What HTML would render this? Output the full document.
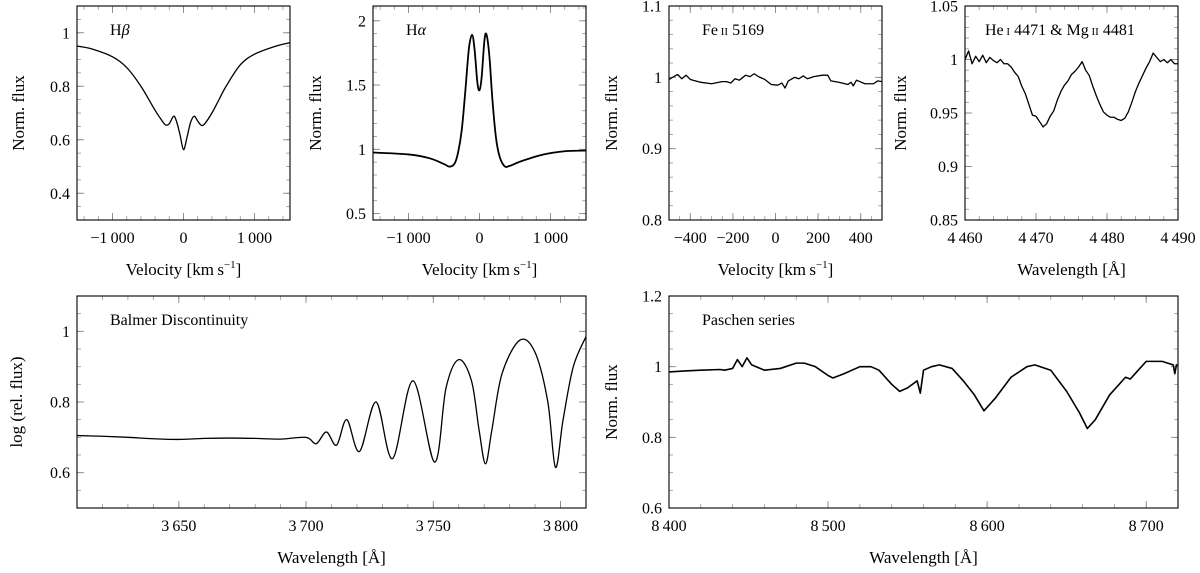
<!DOCTYPE html>
<html><head><meta charset="utf-8"><style>
body{margin:0;background:#fff;}
svg{display:block;font-family:"Liberation Serif",serif;}
</style></head><body>
<svg id="fig" width="1200" height="573" viewBox="0 0 1200 573"></svg>
<script>
// ---- data ----
const hbVel=[-1500,-1300,-1000,-800,-600,-400,-300,-250,-200,-140,-100,-50,0,50,100,150,200,250,300,400,500,600,800,1000,1300,1500];
const hbFlux=[0.95,0.94,0.91,0.87,0.80,0.71,0.67,0.655,0.66,0.688,0.67,0.62,0.563,0.61,0.665,0.688,0.67,0.654,0.66,0.70,0.75,0.80,0.88,0.92,0.95,0.963];
const haVel=[-1500,-1000,-700,-500,-420,-350,-300,-250,-200,-150,-105,-70,-30,0,30,70,100,140,180,230,280,350,420,600,900,1200,1500];
const haFlux=[0.975,0.96,0.93,0.885,0.865,0.89,0.98,1.15,1.45,1.78,1.89,1.78,1.52,1.46,1.56,1.85,1.89,1.72,1.40,1.10,0.95,0.87,0.87,0.91,0.96,0.985,0.99];
const feVel=[-500,-460,-440,-420,-400,-350,-300,-250,-230,-210,-190,-170,-140,-120,-100,-80,-50,-20,10,30,45,60,90,110,130,150,180,220,245,260,300,340,355,365,380,420,460,480,500];
const feFlux=[0.997,1.004,0.998,1.003,0.997,0.993,0.991,0.994,0.994,0.992,0.998,0.996,1.003,1.001,1.005,1.001,0.997,0.990,0.989,0.992,0.985,0.995,1.000,0.998,1.002,0.998,1.001,1.003,1.003,0.995,0.993,0.990,0.993,0.988,0.996,0.991,0.991,0.995,0.994];
const heWave=[4460,4460.5,4461,4461.5,4462,4462.5,4463,4463.5,4464,4464.5,4465,4465.5,4466,4466.5,4467,4467.5,4468,4468.5,4469,4469.5,4470,4470.5,4471,4471.5,4472,4472.5,4473,4473.5,4474,4474.5,4475,4475.5,4476,4476.5,4477,4477.5,4478,4478.5,4479,4479.5,4480,4480.5,4481,4481.5,4482,4482.5,4483,4483.5,4484,4484.5,4485,4485.5,4486,4486.5,4487,4487.5,4488,4488.5,4489,4489.5,4490];
const heFlux=[1.0,1.008,0.996,1.003,0.998,1.004,0.997,1.002,0.999,0.997,1.0,0.996,0.996,0.993,0.988,0.984,0.975,0.968,0.958,0.948,0.947,0.942,0.937,0.940,0.947,0.952,0.962,0.970,0.976,0.980,0.986,0.989,0.993,0.998,0.990,0.985,0.975,0.966,0.958,0.951,0.948,0.946,0.946,0.944,0.943,0.945,0.951,0.960,0.970,0.978,0.985,0.992,0.998,1.006,1.002,0.998,1.000,0.997,1.000,0.996,0.996];
const bdWave=[3610,3620,3630,3640,3650,3660,3670,3680,3690,3700,3704,3708,3712,3716,3721,3727.5,3734,3742,3750.5,3755,3760,3765,3768,3770.5,3773,3777,3784,3790,3795,3798,3801,3805,3810];
const bdFlux=[0.705,0.703,0.700,0.696,0.694,0.697,0.698,0.697,0.695,0.700,0.682,0.715,0.678,0.750,0.660,0.800,0.640,0.860,0.630,0.84,0.920,0.86,0.72,0.625,0.72,0.88,0.975,0.94,0.80,0.615,0.75,0.90,0.985];
const paWave=[8400,8410,8420,8432,8435,8440,8443,8446,8449,8452,8460,8470,8480,8485,8492,8500,8503,8510,8520,8527,8532,8540,8545,8550,8556,8558,8560,8565,8570,8578,8585,8592,8598,8605,8615,8625,8630,8640,8650,8658,8663,8668,8677,8687,8690,8695,8700,8710,8717,8718,8719,8720];
const paFlux=[0.985,0.988,0.99,0.992,0.99,0.995,1.02,1.0,1.025,1.005,0.99,0.995,1.01,1.01,1.0,0.975,0.968,0.98,1.0,1.0,0.99,0.95,0.93,0.94,0.96,0.925,0.99,1.0,1.005,0.995,0.96,0.92,0.875,0.91,0.97,1.0,1.005,0.99,0.93,0.87,0.825,0.85,0.92,0.97,0.965,0.99,1.015,1.015,1.005,0.98,1.005,1.005];

const NS='http://www.w3.org/2000/svg';
const svg=document.getElementById('fig');
function mk(tag,attrs,parent){const e=document.createElementNS(NS,tag);for(const k in attrs)e.setAttribute(k,attrs[k]);(parent||svg).appendChild(e);return e;}
function fmt(v){let s=Math.abs(v).toString();if(Math.abs(v)>=1000&&Number.isInteger(v)){s=s.replace(/\B(?=(\d{3})+(?!\d))/g,'\u2009');}return (v<0?'\u2212':'')+s;}
function smoothPath(pts){let d='M'+pts[0][0]+','+pts[0][1];for(let i=0;i<pts.length-1;i++){const p0=pts[i-1]||pts[i],p1=pts[i],p2=pts[i+1],p3=pts[i+2]||p2;const c1x=p1[0]+(p2[0]-p0[0])/6,c1y=p1[1]+(p2[1]-p0[1])/6,c2x=p2[0]-(p3[0]-p1[0])/6,c2y=p2[1]-(p3[1]-p1[1])/6;d+=' C'+c1x+','+c1y+' '+c2x+','+c2y+' '+p2[0]+','+p2[1];}return d;}

function panel(o){
  const g=mk('g',{});
  
  
  const X=v=>o.x0+(v-o.xd[0])/(o.xd[1]-o.xd[0])*(o.x1-o.x0);
  const Y=v=>o.y1-(v-o.yd[0])/(o.yd[1]-o.yd[0])*(o.y1-o.y0);
  for(let v=Math.ceil(o.xd[0]/o.xm)*o.xm;v<=o.xd[1]+1e-9;v+=o.xm){const x=X(v);mk('line',{x1:x,x2:x,y1:o.y1,y2:o.y1-4,stroke:'#999','stroke-width':0.8},g);mk('line',{x1:x,x2:x,y1:o.y0,y2:o.y0+4,stroke:'#999','stroke-width':0.8},g);}
  for(let v=Math.ceil(o.yd[0]/o.ym-1e-9)*o.ym;v<=o.yd[1]+1e-9;v+=o.ym){const y=Y(v);mk('line',{x1:o.x0,x2:o.x0+4,y1:y,y2:y,stroke:'#999','stroke-width':0.8},g);mk('line',{x1:o.x1,x2:o.x1-4,y1:y,y2:y,stroke:'#999','stroke-width':0.8},g);}
  o.xt.forEach(v=>{const x=X(v);mk('line',{x1:x,x2:x,y1:o.y1,y2:o.y1-7,stroke:'#888','stroke-width':0.9},g);mk('line',{x1:x,x2:x,y1:o.y0,y2:o.y0+7,stroke:'#888','stroke-width':0.9},g);
    const t=mk('text',{x:x,y:o.y1+23,'text-anchor':'middle','font-size':16},g);t.textContent=fmt(v);
    
    });
  o.yt.forEach(v=>{const y=Y(v);mk('line',{x1:o.x0,x2:o.x0+7,y1:y,y2:y,stroke:'#888','stroke-width':0.9},g);mk('line',{x1:o.x1,x2:o.x1-7,y1:y,y2:y,stroke:'#888','stroke-width':0.9},g);
    const t=mk('text',{x:o.x0-7,y:y+5.5,'text-anchor':'end','font-size':16},g);t.textContent=fmt(v);
    
    });
  const pts=o.xs.map((v,i)=>[X(v),Y(o.ys[i])]);
  const d=o.smooth?smoothPath(pts):'M'+pts.map(p=>p[0].toFixed(2)+','+p[1].toFixed(2)).join(' L');
  const cp=mk('clipPath',{id:'c'+o.name},g);mk('rect',{x:o.x0,y:o.y0,width:o.x1-o.x0,height:o.y1-o.y0},cp);
  const p=mk('path',{d:d,fill:'none',stroke:'#000','stroke-width':o.sw||1.3,'stroke-linejoin':'round','clip-path':'url(#c'+o.name+')'},g);
  
  
  const f=mk('rect',{x:o.x0,y:o.y0,width:o.x1-o.x0,height:o.y1-o.y0,fill:'none',stroke:'#000','stroke-width':1.1},g);
  
  
  const tt=mk('text',{x:o.x0+o.tx,y:o.y0+29,'font-size':16},g);tt.innerHTML=o.title;
  
  
  const xl=mk('text',{x:(o.x0+o.x1)/2,y:o.y1+55,'text-anchor':'middle','font-size':17},g);xl.innerHTML=o.xlabel;
  
  
  const yx=o.ylx, yy=(o.y0+o.y1)/2;
  const yl=mk('text',{x:yx,y:yy,'text-anchor':'middle','font-size':17,transform:'rotate(-90 '+yx+' '+yy+')'},g);yl.textContent=o.ylabel;
  
  
}
const VEL='Velocity [km\u2009s<tspan dy="-7" font-size="11">\u22121</tspan><tspan dy="7">]</tspan>';
const WAV='Wavelength [Å]';
const T0=6,T1=220,B0=296,B1=508;
panel({name:'hbeta-panel',x0:77,x1:290,y0:T0,y1:T1,xd:[-1500,1500],yd:[0.3,1.1],xt:[-1000,0,1000],yt:[0.4,0.6,0.8,1],xm:200,ym:0.05,xs:hbVel,ys:hbFlux,smooth:true,title:'H<tspan font-style="italic">β</tspan>',tx:33,xlabel:VEL,ylabel:'Norm. flux',ylx:24});
panel({name:'halpha-panel',x0:373,x1:586,y0:T0,y1:T1,xd:[-1500,1500],yd:[0.45,2.115],xt:[-1000,0,1000],yt:[0.5,1,1.5,2],xm:200,ym:0.1,xs:haVel,ys:haFlux,smooth:true,sw:1.8,title:'H<tspan font-style="italic">α</tspan>',tx:33,xlabel:VEL,ylabel:'Norm. flux',ylx:321});
panel({name:'feii-panel',x0:669,x1:882,y0:T0,y1:T1,xd:[-500,500],yd:[0.8,1.1],xt:[-400,-200,0,200,400],yt:[0.8,0.9,1,1.1],xm:50,ym:0.02,xs:feVel,ys:feFlux,title:'Fe<tspan font-size="11"> II</tspan> 5169',tx:33,xlabel:VEL,ylabel:'Norm. flux',ylx:617});
panel({name:'hei-mgii-panel',x0:965,x1:1178,y0:T0,y1:T1,xd:[4460,4490],yd:[0.85,1.05],xt:[4460,4470,4480,4490],yt:[0.85,0.9,0.95,1,1.05],xm:2,ym:0.01,xs:heWave,ys:heFlux,title:'He<tspan font-size="11"> I</tspan> 4471 &amp; Mg<tspan font-size="11"> II</tspan> 4481',tx:20,xlabel:WAV,ylabel:'Norm. flux',ylx:906});
panel({name:'balmer-panel',x0:77,x1:586,y0:B0,y1:B1,xd:[3610,3810],yd:[0.5,1.1],xt:[3650,3700,3750,3800],yt:[0.6,0.8,1],xm:10,ym:0.05,xs:bdWave,ys:bdFlux,smooth:true,title:'Balmer Discontinuity',tx:33,xlabel:WAV,ylabel:'log (rel. flux)',ylx:22});
panel({name:'paschen-panel',x0:669,x1:1178,y0:B0,y1:B1,xd:[8400,8720],yd:[0.6,1.2],xt:[8400,8500,8600,8700],yt:[0.6,0.8,1,1.2],xm:20,ym:0.05,xs:paWave,ys:paFlux,sw:1.6,title:'Paschen series',tx:33,xlabel:WAV,ylabel:'Norm. flux',ylx:617});
</script>
</body></html>
